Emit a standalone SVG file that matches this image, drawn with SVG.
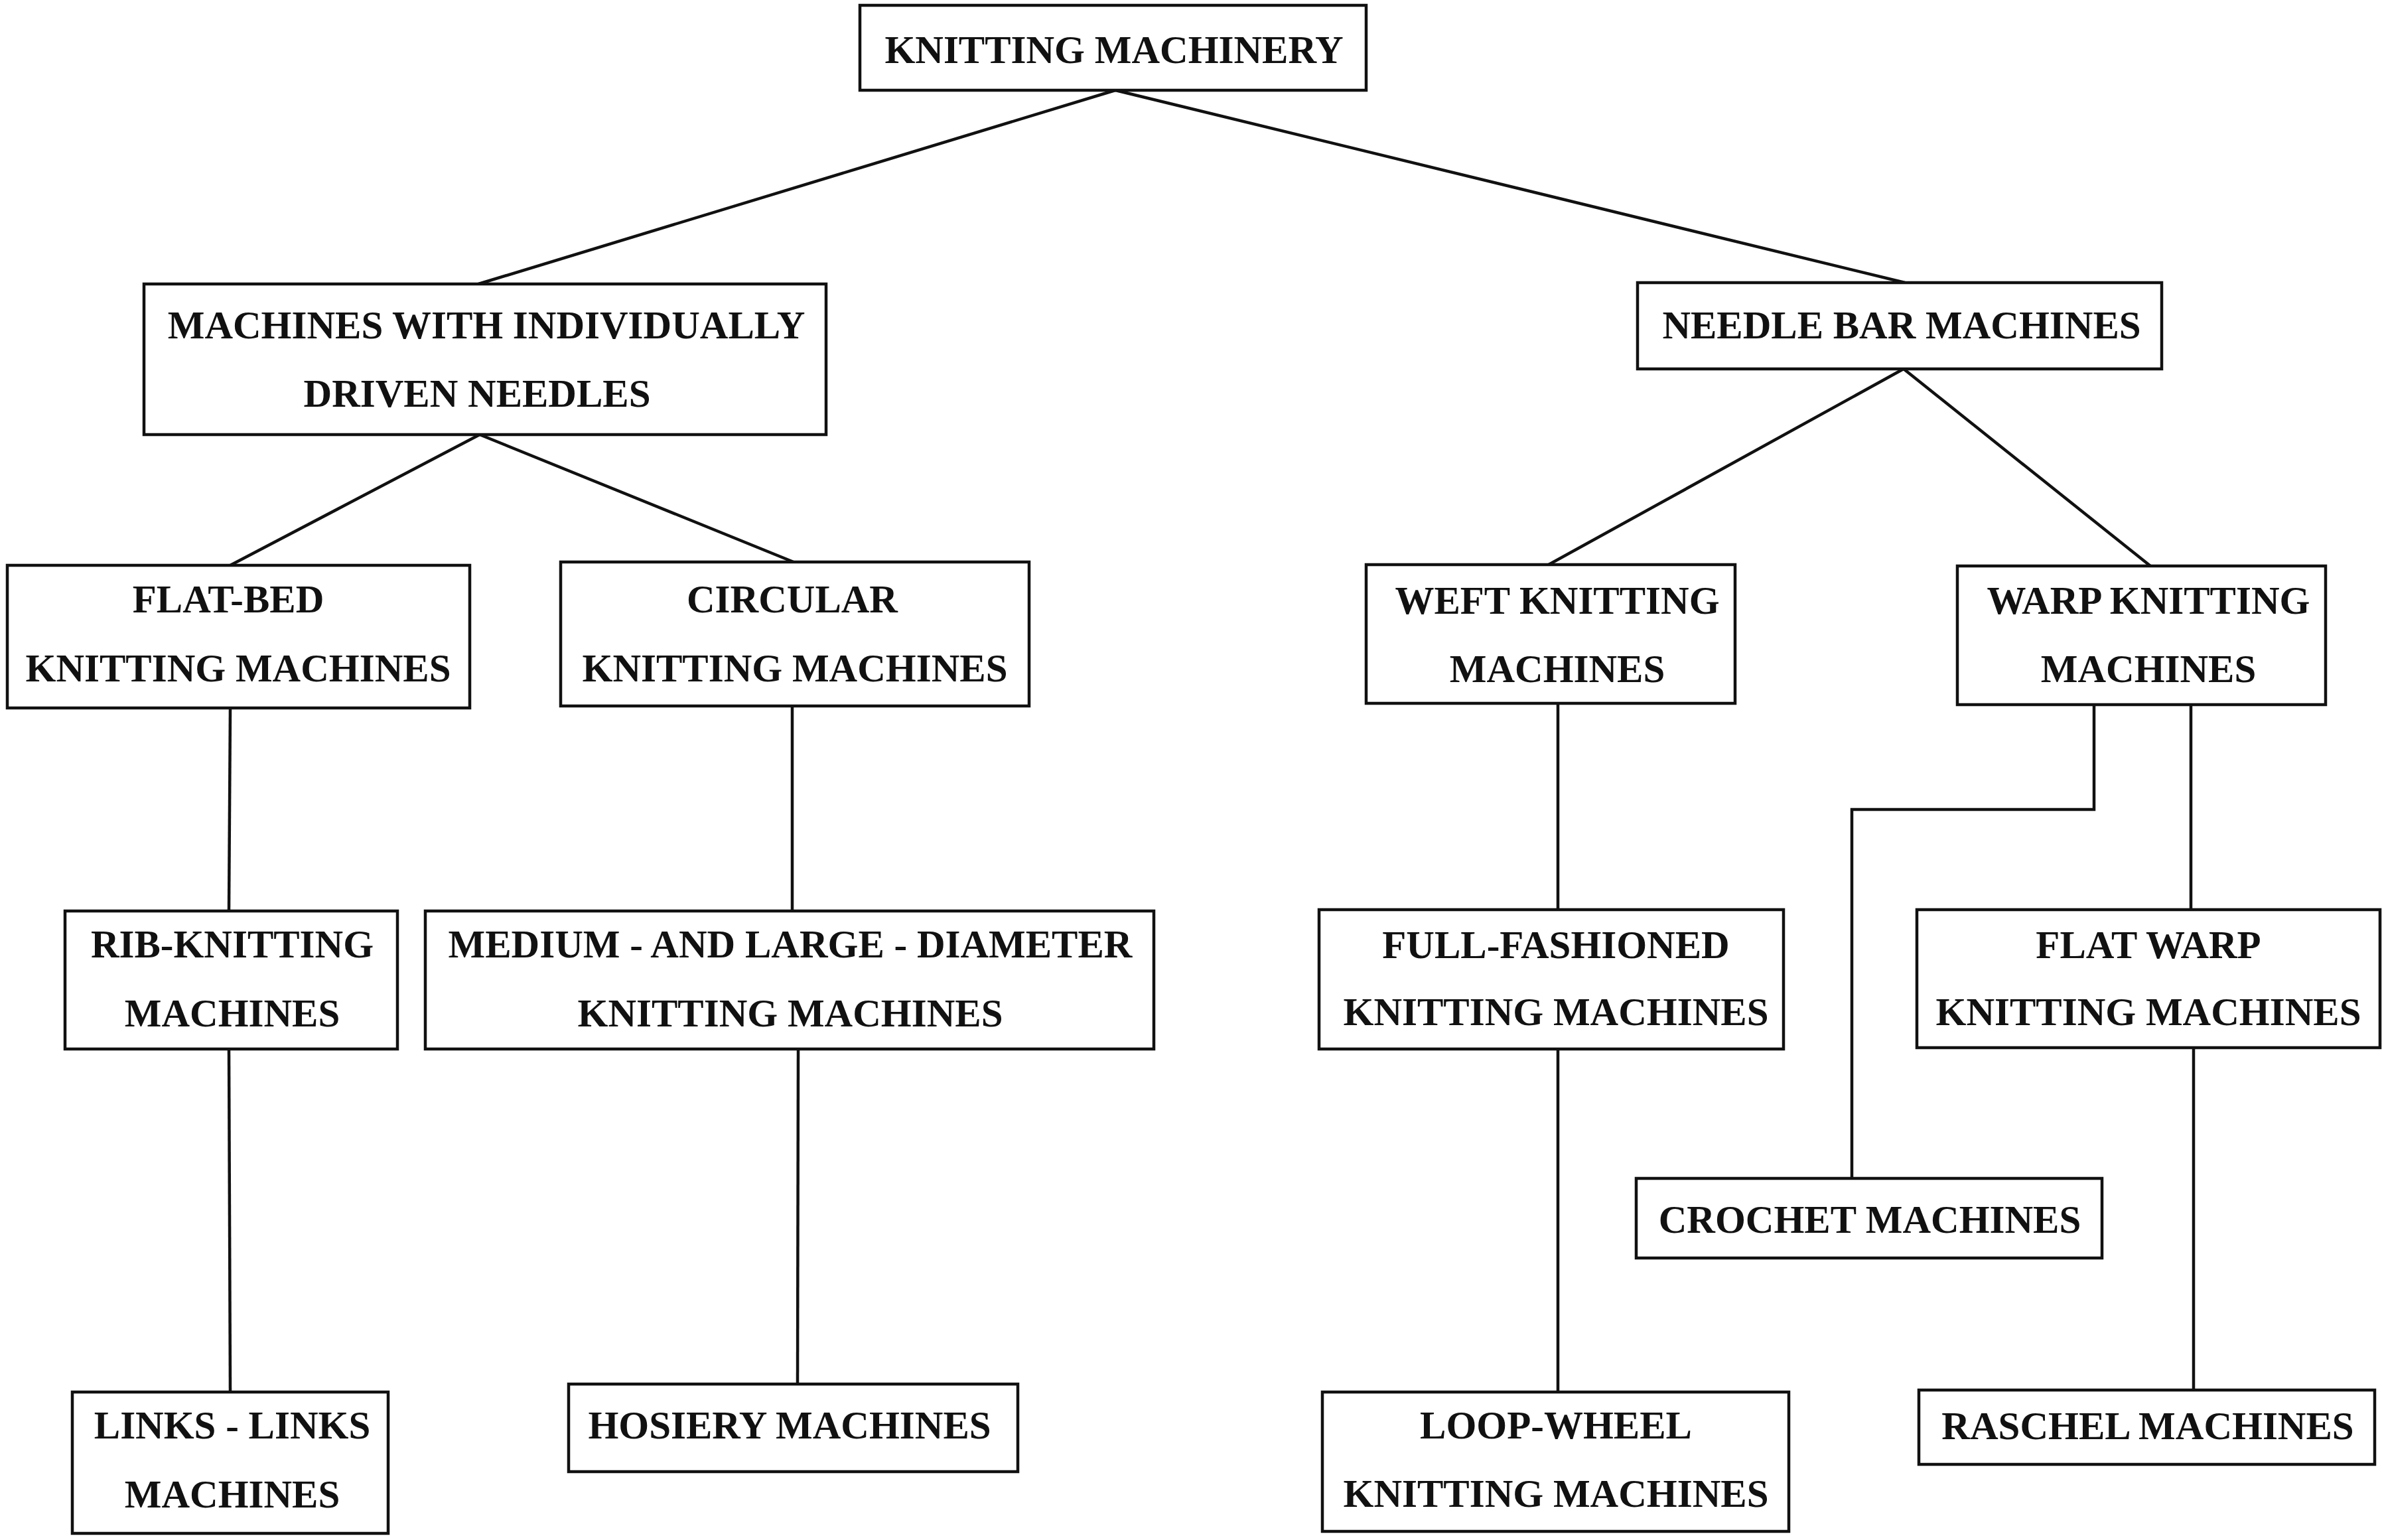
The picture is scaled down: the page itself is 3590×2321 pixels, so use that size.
<svg xmlns="http://www.w3.org/2000/svg" width="3590" height="2321" viewBox="0 0 3590 2321">
<style>
.box{fill:#fff;stroke:#111;stroke-width:4.5}
.lbl{font-family:"Liberation Serif","Times New Roman",serif;font-weight:bold;font-size:59px;fill:#111;text-anchor:middle}
.con{fill:none;stroke:#111;stroke-width:4.5}
</style>
<rect width="3590" height="2321" fill="#fff"/>
<g id="connectors">
<line class="con" x1="1681" y1="136" x2="721" y2="428"/>
<line class="con" x1="1681" y1="136" x2="2871" y2="426"/>
<line class="con" x1="723" y1="655" x2="347" y2="852"/>
<line class="con" x1="723" y1="655" x2="1196" y2="847"/>
<line class="con" x1="2869" y1="556" x2="2334" y2="851"/>
<line class="con" x1="2869" y1="556" x2="3241" y2="853"/>
<line class="con" x1="347" y1="1067" x2="345" y2="1373"/>
<line class="con" x1="345" y1="1581" x2="347" y2="2098"/>
<line class="con" x1="1194" y1="1064" x2="1194" y2="1373"/>
<line class="con" x1="1203" y1="1581" x2="1202" y2="2086"/>
<line class="con" x1="2348" y1="1060" x2="2348" y2="1371"/>
<line class="con" x1="2348" y1="1581" x2="2348" y2="2098"/>
<polyline class="con" points="3156,1062 3156,1220 2791,1220 2791,1776"/>
<line class="con" x1="3302" y1="1062" x2="3302" y2="1371"/>
<line class="con" x1="3306" y1="1579" x2="3306" y2="2095"/>
</g>
<g id="n-knitting-machinery"><rect class="box" x="1296" y="8" width="763" height="128"/><text class="lbl" x="1679" y="95">KNITTING MACHINERY</text></g>
<g id="n-individually"><rect class="box" x="217" y="428" width="1028" height="227"/><text class="lbl" x="733" y="510">MACHINES WITH INDIVIDUALLY</text><text class="lbl" x="719" y="613">DRIVEN NEEDLES</text></g>
<g id="n-needle-bar"><rect class="box" x="2468" y="426" width="790" height="130"/><text class="lbl" x="2866" y="510">NEEDLE BAR MACHINES</text></g>
<g id="n-flat-bed"><rect class="box" x="11" y="852" width="697" height="215"/><text class="lbl" x="344" y="923">FLAT-BED</text><text class="lbl" x="359" y="1027">KNITTING MACHINES</text></g>
<g id="n-circular"><rect class="box" x="845" y="847" width="706" height="217"/><text class="lbl" x="1194" y="923">CIRCULAR</text><text class="lbl" x="1198" y="1027">KNITTING MACHINES</text></g>
<g id="n-weft"><rect class="box" x="2059" y="851" width="556" height="209"/><text class="lbl" x="2347" y="925">WEFT KNITTING</text><text class="lbl" x="2347" y="1028">MACHINES</text></g>
<g id="n-warp"><rect class="box" x="2950" y="853" width="555" height="209"/><text class="lbl" x="3238" y="925">WARP KNITTING</text><text class="lbl" x="3238" y="1028">MACHINES</text></g>
<g id="n-rib"><rect class="box" x="98" y="1373" width="501" height="208"/><text class="lbl" x="350" y="1443">RIB-KNITTING</text><text class="lbl" x="350" y="1547">MACHINES</text></g>
<g id="n-medium"><rect class="box" x="641" y="1373" width="1098" height="208"/><text class="lbl" x="1191" y="1443">MEDIUM - AND LARGE - DIAMETER</text><text class="lbl" x="1191" y="1547">KNITTING MACHINES</text></g>
<g id="n-full-fashioned"><rect class="box" x="1988" y="1371" width="700" height="210"/><text class="lbl" x="2345" y="1444">FULL-FASHIONED</text><text class="lbl" x="2345" y="1545">KNITTING MACHINES</text></g>
<g id="n-flat-warp"><rect class="box" x="2889" y="1371" width="698" height="208"/><text class="lbl" x="3238" y="1444">FLAT WARP</text><text class="lbl" x="3238" y="1545">KNITTING MACHINES</text></g>
<g id="n-crochet"><rect class="box" x="2466" y="1776" width="702" height="120"/><text class="lbl" x="2818" y="1858">CROCHET MACHINES</text></g>
<g id="n-links"><rect class="box" x="109" y="2098" width="476" height="213"/><text class="lbl" x="350" y="2168">LINKS - LINKS</text><text class="lbl" x="350" y="2272">MACHINES</text></g>
<g id="n-hosiery"><rect class="box" x="857" y="2086" width="677" height="132"/><text class="lbl" x="1190" y="2168">HOSIERY MACHINES</text></g>
<g id="n-loop-wheel"><rect class="box" x="1993" y="2098" width="703" height="210"/><text class="lbl" x="2345" y="2168">LOOP-WHEEL</text><text class="lbl" x="2345" y="2271">KNITTING MACHINES</text></g>
<g id="n-raschel"><rect class="box" x="2892" y="2095" width="687" height="112"/><text class="lbl" x="3237" y="2169">RASCHEL MACHINES</text></g>
</svg>
